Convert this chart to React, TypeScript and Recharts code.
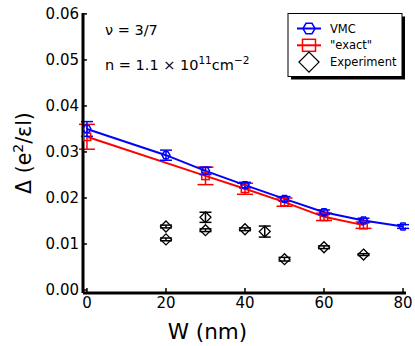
import {
  ComposedChart,
  Line,
  Scatter,
  XAxis,
  YAxis,
  ErrorBar,
} from "recharts"

// quantum well width W (nm) and gap values
const vmcWidth = [0, 20, 30, 40, 50, 60, 70, 80]
const vmcGap = [0.035, 0.0293, 0.0259, 0.0228, 0.0198, 0.0169, 0.0151, 0.0138]
const vmcErr = [0.0016, 0.0011, 0.0008, 0.0006, 0.0005, 0.0005, 0.0005, 0.0004]

const exactWidth = [0, 30, 40, 50, 60, 70]
const exactGap = [0.0333, 0.0248, 0.022, 0.0191, 0.0159, 0.0141]
const exactErr = [0.0027, 0.0019, 0.0012, 0.0009, 0.0008, 0.0007]

const expWidth = [20, 20, 30, 30, 40, 45, 50, 60, 70]
const expGap = [0.0138, 0.011, 0.0158, 0.013, 0.0132, 0.0127, 0.0067, 0.0093, 0.0077]
const expErr = [0.0003, 0.0003, 0.0011, 0.0003, 0.0003, 0.0012, 0.0004, 0.0003, 0.0002]

const xTicks = [0, 20, 40, 60, 80]
const yTicks = [0, 0.01, 0.02, 0.03, 0.04, 0.05, 0.06]

const legendItems = ["VMC", '"exact"', "Experiment"]

const FONT = "DejaVu Sans"

const toRows = (xs: number[], ys: number[], es: number[]) =>
  xs.map((w, i) => ({ w, gap: ys[i], err: es[i] }))

const vmcData = toRows(vmcWidth, vmcGap, vmcErr)
const exactData = toRows(exactWidth, exactGap, exactErr)
const expData = toRows(expWidth, expGap, expErr)

function hexPath(cx: number, cy: number, r: number) {
  const pts = []
  for (let k = 0; k < 6; k++) {
    const a = (Math.PI / 3) * k
    pts.push(`${cx + r * Math.cos(a)},${cy + r * Math.sin(a)}`)
  }
  return "M" + pts.join("L") + "Z"
}

const HexDot = (props: any) => {
  const { cx, cy, index } = props
  if (cx == null || cy == null) return <g key={"h" + index} />
  return (
    <path key={"h" + index} d={hexPath(cx, cy, 4)} fill="none" stroke="#0000ff" strokeWidth={1.5} />
  )
}

const SquareDot = (props: any) => {
  const { cx, cy, index } = props
  if (cx == null || cy == null) return <g key={"s" + index} />
  return (
    <rect key={"s" + index} x={cx - 3.7} y={cy - 3.7} width={7.4} height={7.4} fill="none" stroke="#ff0000" strokeWidth={1.5} />
  )
}

const Diamond = (props: any) => {
  const { cx, cy } = props
  const r = 5.5
  return (
    <path
      d={`M${cx},${cy - r}L${cx + r},${cy}L${cx},${cy + r}L${cx - r},${cy}Z`}
      fill="none"
      stroke="#000"
      strokeWidth={1.3}
    />
  )
}

const XTick = (props: any) => {
  const { x, y, payload } = props
  const axisY = y - 4
  return (
    <g>
      <line x1={x} x2={x} y1={axisY} y2={axisY - 5} stroke="#000" strokeWidth={1.5} />
      <text x={x} y={y} dy="0.71em" textAnchor="middle" fontSize={15} fontFamily={FONT} fill="#000">
        {payload.value}
      </text>
    </g>
  )
}

const YTick = (props: any) => {
  const { x, y, payload } = props
  const axisX = x + 4
  return (
    <g>
      <line x1={axisX} x2={axisX + 4} y1={y} y2={y} stroke="#000" strokeWidth={1.5} />
      <text x={x} y={y} dy="0.36em" textAnchor="end" fontSize={15} fontFamily={FONT} fill="#000">
        {Number(payload.value).toFixed(2)}
      </text>
    </g>
  )
}

function LegendMarker({ i, cx, cy }: { i: number; cx: number; cy: number }) {
  if (i === 0)
    return (
      <g>
        <line x1={cx - 12} x2={cx + 12} y1={cy} y2={cy} stroke="#0000ff" strokeWidth={2} />
        <path d={hexPath(cx, cy, 6)} fill="none" stroke="#0000ff" strokeWidth={1.5} />
      </g>
    )
  if (i === 1)
    return (
      <g>
        <line x1={cx - 12} x2={cx + 12} y1={cy} y2={cy} stroke="#ff0000" strokeWidth={2} />
        <rect x={cx - 6.5} y={cy - 6} width={13} height={12} fill="none" stroke="#ff0000" strokeWidth={1.5} />
      </g>
    )
  return (
    <path
      d={`M${cx},${cy - 10}L${cx + 10},${cy}L${cx},${cy + 10}L${cx - 10},${cy}Z`}
      fill="none"
      stroke="#000"
      strokeWidth={1.3}
    />
  )
}

export default function App() {
  return (
    <div
      style={{
        position: "absolute",
        left: 0,
        top: 0,
        width: 415,
        height: 346,
        background: "#fff",
        fontFamily: FONT,
      }}
    >
      <ComposedChart width={415} height={346} margin={{ top: 13, right: 9, bottom: 23, left: 0 }}>
        <XAxis
          xAxisId="b"
          dataKey="w"
          type="number"
          domain={[-1, 80.75]}
          ticks={xTicks}
          tick={<XTick />}
          tickLine={false}
          tickSize={0}
          tickMargin={4}
          height={30}
          axisLine={{ stroke: "#000", strokeWidth: 3 }}
          allowDataOverflow
        />
        <XAxis
          xAxisId="t"
          orientation="top"
          type="number"
          domain={[-1, 80.75]}
          tick={false}
          tickLine={false}
          height={0}
          axisLine={{ stroke: "#000", strokeWidth: 3 }}
        />
        <YAxis
          yAxisId="l"
          type="number"
          domain={[-0.00065, 0.0602]}
          ticks={yTicks}
          tick={<YTick />}
          tickLine={false}
          tickSize={0}
          tickMargin={4}
          width={83}
          axisLine={{ stroke: "#000", strokeWidth: 3 }}
          allowDataOverflow
        />
        <YAxis
          yAxisId="r"
          orientation="right"
          type="number"
          domain={[-0.00065, 0.0602]}
          tick={false}
          tickLine={false}
          width={0}
          axisLine={{ stroke: "#000", strokeWidth: 3 }}
        />
        <Line
          xAxisId="b"
          yAxisId="l"
          data={exactData}
          dataKey="gap"
          stroke="#ff0000"
          strokeWidth={2}
          dot={SquareDot}
          activeDot={false}
          isAnimationActive={false}
        >
          <ErrorBar dataKey="err" direction="y" width={8} stroke="#ff0000" strokeWidth={1.5} />
        </Line>
        <Line
          xAxisId="b"
          yAxisId="l"
          data={vmcData}
          dataKey="gap"
          stroke="#0000ff"
          strokeWidth={2}
          dot={HexDot}
          activeDot={false}
          isAnimationActive={false}
        >
          <ErrorBar dataKey="err" direction="y" width={6} stroke="#0000ff" strokeWidth={1.5} />
        </Line>
        <Scatter
          xAxisId="b"
          yAxisId="l"
          data={expData}
          dataKey="gap"
          shape={Diamond}
          isAnimationActive={false}
        >
          <ErrorBar dataKey="err" direction="y" width={6} stroke="#000" strokeWidth={1.5} />
        </Scatter>
      </ComposedChart>

      <svg
        width={415}
        height={346}
        style={{ position: "absolute", left: 0, top: 0, pointerEvents: "none" }}
        fontFamily={FONT}
      >
        <text x={105} y={35} fontSize={14.5} fill="#000">
          ν = 3/7
        </text>
        <text x={105} y={70} fontSize={14.5} fill="#000">
          n = 1.1 × 10
          <tspan fontSize={10.5} dy={-6}>11</tspan>
          <tspan dy={6}>cm</tspan>
          <tspan fontSize={10.5} dy={-6}>−2</tspan>
        </text>

        <rect x={291} y={16.5} width={114} height={63} fill="#000" />
        <rect x={288} y={13.5} width={114} height={63} fill="#fff" stroke="#000" strokeWidth={1} />
        {legendItems.map((name, i) => (
          <g key={name}>
            <LegendMarker i={i} cx={309} cy={28.5 + i * 16.8} />
            <text x={330} y={28.5 + i * 16.8} dy="0.36em" fontSize={11.5} fill="#000">
              {name}
            </text>
          </g>
        ))}

        <text x={207.5} y={339} textAnchor="middle" fontSize={21.5} fill="#000">
          W (nm)
        </text>
        <text transform="translate(31,153) rotate(-90)" textAnchor="middle" fontSize={20.5} fill="#000">
          Δ (e<tspan fontSize={14} dy={-8}>2</tspan>
          <tspan dy={8}>/εl)</tspan>
        </text>
      </svg>
    </div>
  )
}
